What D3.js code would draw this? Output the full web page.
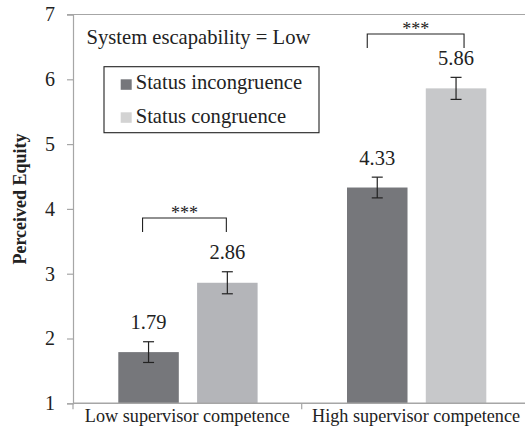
<!DOCTYPE html>
<html>
<head>
<meta charset="utf-8">
<script src="https://cdn.jsdelivr.net/npm/d3@7"></script>
<style>
  html, body { margin: 0; padding: 0; background: #fff; }
  svg { display: block; }
</style>
</head>
<body>
<svg id="chart" width="525" height="436" font-family="Liberation Serif"></svg>
<script>
// Perceived equity by supervisor competence and status congruence
const categories = ["Low supervisor competence", "High supervisor competence"];
const seriesNames = ["Status incongruence", "Status congruence"];
const incongruence = [1.79, 4.33];
const congruence = [2.86, 5.86];
const incongruenceErr = [0.16, 0.16];
const congruenceErr = [0.17, 0.17];
const significance = ["***", "***"];
const bracketLevel = [3.86, 6.70];
const yTicks = [1, 2, 3, 4, 5, 6, 7];

const FONT = "Liberation Serif";
const barFill = [["#76777b", "#b4b5b9"], ["#76777b", "#c7c8ca"]];
const legendFill = ["#76777b", "#d3d3d3"];
const bracketInset = [[-6, -1], [-10, 8]];

const svg = d3.select("#chart");
const m = { left: 73, top: 14.5, bottom: 403.3 };
const bandW = 228.7;

const y = d3.scaleLinear().domain([1, 7]).range([m.bottom, m.top]);
const x0 = d3.scaleBand().domain(categories).range([m.left, m.left + bandW * 2]).paddingInner(0).paddingOuter(0);
const x1 = d3.scaleBand().domain(seriesNames).range([45.3, 184.6]).paddingInner(0.232).paddingOuter(0);

const axisColor = "#a6a6a6";
const ink = "#222";

// top frame line
svg.append("line")
  .attr("x1", m.left - 6).attr("x2", 525)
  .attr("y1", y(7)).attr("y2", y(7))
  .attr("stroke", axisColor).attr("stroke-width", 1.2);

// y axis
const yAxis = svg.append("g").attr("transform", `translate(${m.left},0)`)
  .call(d3.axisLeft(y).tickValues(yTicks).tickSize(6).tickPadding(12).tickFormat(d3.format("d")));
yAxis.attr("font-family", FONT);
yAxis.select(".domain").attr("stroke", axisColor).attr("stroke-width", 1.2);
yAxis.selectAll(".tick line").attr("stroke", axisColor).attr("stroke-width", 1.2);
yAxis.selectAll(".tick text")
  .attr("font-family", FONT).attr("font-size", 20).attr("fill", ink);

// bars
const rows = categories.map((c, i) => ({
  cat: c, i,
  vals: [
    { s: seriesNames[0], v: incongruence[i], e: incongruenceErr[i], k: 0 },
    { s: seriesNames[1], v: congruence[i], e: congruenceErr[i], k: 1 }
  ]
}));

const groups = svg.selectAll("g.grp").data(rows).join("g")
  .attr("class", "grp")
  .attr("transform", d => `translate(${x0(d.cat)},0)`);

groups.selectAll("rect").data(d => d.vals.map(v => ({ ...v, i: d.i }))).join("rect")
  .attr("x", d => x1(d.s))
  .attr("width", x1.bandwidth())
  .attr("y", d => y(d.v))
  .attr("height", d => y(1) - y(d.v))
  .attr("fill", d => barFill[d.i][d.k]);

// error bars
const eb = groups.selectAll("g.err").data(d => d.vals).join("g").attr("class", "err")
  .attr("transform", d => `translate(${x1(d.s) + x1.bandwidth() / 2},0)`)
  .attr("stroke", ink).attr("stroke-width", 1.2);
eb.append("line").attr("x1", 0).attr("x2", 0).attr("y1", d => y(d.v + d.e)).attr("y2", d => y(d.v - d.e));
eb.append("line").attr("x1", -5.5).attr("x2", 5.5).attr("y1", d => y(d.v + d.e)).attr("y2", d => y(d.v + d.e));
eb.append("line").attr("x1", -5.5).attr("x2", 5.5).attr("y1", d => y(d.v - d.e)).attr("y2", d => y(d.v - d.e));

// value labels
groups.selectAll("text.val").data(d => d.vals).join("text").attr("class", "val")
  .attr("x", d => x1(d.s) + x1.bandwidth() / 2)
  .attr("y", d => y(d.v + d.e) - 12.5)
  .attr("text-anchor", "middle")
  .attr("font-family", FONT).attr("font-size", 20.5).attr("fill", ink)
  .text(d => d.v.toFixed(2));

// significance brackets above each pair
groups.each(function (d) {
  const g = d3.select(this);
  const xa = x1(seriesNames[0]) + x1.bandwidth() / 2 + bracketInset[d.i][0];
  const xb = x1(seriesNames[1]) + x1.bandwidth() / 2 + bracketInset[d.i][1];
  const barY = y(bracketLevel[d.i]);
  const legY = barY + 14;
  g.append("path")
    .attr("d", `M${xa},${legY}V${barY}H${xb}V${legY}`)
    .attr("fill", "none").attr("stroke", ink).attr("stroke-width", 1.1);
  g.append("text")
    .attr("x", (xa + xb) / 2).attr("y", barY + 1)
    .attr("text-anchor", "middle").attr("font-family", FONT).attr("font-size", 18).attr("fill", ink)
    .text(significance[d.i]);
});

// x axis
const xAxis = svg.append("g").attr("transform", `translate(0,${m.bottom})`)
  .call(d3.axisBottom(x0).tickSize(0).tickPadding(6));
xAxis.attr("font-family", FONT);
xAxis.select(".domain").remove();
xAxis.selectAll(".tick text")
  .attr("font-family", FONT).attr("font-size", 18.2).attr("fill", ink);
svg.append("line")
  .attr("x1", m.left).attr("x2", 525).attr("y1", m.bottom).attr("y2", m.bottom)
  .attr("stroke", axisColor).attr("stroke-width", 1.4);
// category separators
[m.left, m.left + bandW].forEach(xx => {
  svg.append("line").attr("x1", xx).attr("x2", xx)
    .attr("y1", m.bottom).attr("y2", m.bottom + 6)
    .attr("stroke", axisColor).attr("stroke-width", 1.2);
});

// y axis title
svg.append("text")
  .attr("transform", "translate(26,199) rotate(-90)")
  .attr("text-anchor", "middle").attr("font-family", FONT).attr("font-weight", "bold").attr("font-size", 18).attr("fill", ink)
  .text("Perceived Equity");

// condition note
svg.append("text").attr("x", 86.5).attr("y", 44.3)
  .attr("font-family", FONT).attr("font-size", 20.6).attr("fill", ink)
  .text("System escapability = Low");

// legend
const lg = svg.append("g").attr("transform", "translate(104,66.7)");
lg.append("rect").attr("width", 215).attr("height", 66)
  .attr("fill", "#fff").attr("stroke", ink).attr("stroke-width", 1.1);
seriesNames.forEach((s, k) => {
  lg.append("rect").attr("x", 16.7).attr("y", 12.6 + k * 33).attr("width", 11).attr("height", 10.5)
    .attr("fill", legendFill[k]);
  lg.append("text").attr("x", 31.7).attr("y", 22.6 + k * 34)
    .attr("font-family", FONT).attr("font-size", 20.6).attr("fill", ink).text(s);
});
</script>
</body>
</html>
